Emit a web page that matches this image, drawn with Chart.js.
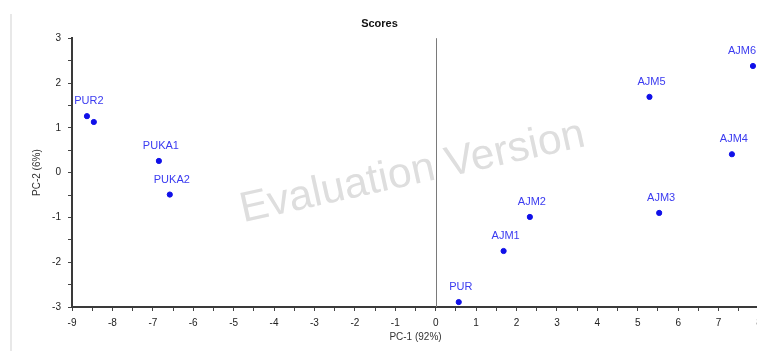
<!DOCTYPE html>
<html>
<head>
<meta charset="utf-8">
<script src="https://cdn.jsdelivr.net/npm/chart.js@4/dist/chart.umd.min.js"></script>
<style>
  html, body { margin: 0; padding: 0; background: #fff; overflow: hidden; }
  #wrap { position: relative; width: 770px; height: 351px; }
</style>
</head>
<body>
<div id="wrap"><canvas id="c"></canvas></div>
<script>
// PCA score plot: sample names with their PC-1 / PC-2 scores
const sampleNames = ['PUR2', '', 'PUKA1', 'PUKA2', 'PUR', 'AJM1', 'AJM2', 'AJM3', 'AJM5', 'AJM4', 'AJM6'];
const pc1Scores   = [-8.63, -8.46, -6.85, -6.58, 0.57, 1.68, 2.33, 5.53, 5.29, 7.33, 7.85];
const pc2Scores   = [1.26, 1.13, 0.26, -0.49, -2.89, -1.75, -0.99, -0.90, 1.69, 0.41, 2.38];

const xRange = [-9, 8];
const yRange = [-3, 3];

const chartTitle = 'Scores';
const xTitle = 'PC-1 (92%)';
const yTitle = 'PC-2 (6%)';
const watermark = 'Evaluation Version';

const points = pc1Scores.map((x, i) => ({ x: x, y: pc2Scores[i] }));

const FONT = "'Liberation Sans', Arial, sans-serif";
const VISIBLE_WIDTH = 757;

// light frame edge, watermark and the vertical zero line
const backdrop = {
  id: 'backdrop',
  beforeDatasetsDraw(chart) {
    const { ctx, chartArea: a, scales: { x } } = chart;
    ctx.save();
    ctx.strokeStyle = '#e8e8e8';
    ctx.lineWidth = 2;
    ctx.beginPath();
    ctx.moveTo(11, 14);
    ctx.lineTo(11, chart.height);
    ctx.stroke();

    // watermark text
    ctx.translate((a.left + a.right) / 2 - 3, (a.top + a.bottom) / 2 + 0);
    ctx.rotate(-12.5 * Math.PI / 180);
    ctx.font = '100px ' + FONT;
    const w = ctx.measureText(watermark).width;
    const size = 100 * 352 / w;
    ctx.font = size + 'px ' + FONT;
    ctx.fillStyle = '#dedede';
    ctx.textAlign = 'center';
    ctx.textBaseline = 'middle';
    ctx.fillText(watermark, 0, 0);
    ctx.restore();

    // zero line of PC-1
    const x0 = Math.round(x.getPixelForValue(0)) + 0.5;
    ctx.save();
    ctx.strokeStyle = '#7a7a7a';
    ctx.lineWidth = 1;
    ctx.beginPath();
    ctx.moveTo(x0, a.top);
    ctx.lineTo(x0, a.bottom);
    ctx.stroke();
    ctx.restore();
  }
};

// sample names above their points, kept inside the visible area
const pointNames = {
  id: 'pointNames',
  afterDatasetsDraw(chart) {
    const { ctx } = chart;
    const meta = chart.getDatasetMeta(0);
    ctx.save();
    ctx.font = '11px ' + FONT;
    ctx.fillStyle = '#3b3bf0';
    ctx.textAlign = 'center';
    ctx.textBaseline = 'middle';
    meta.data.forEach((el, i) => {
      const name = sampleNames[i];
      if (!name) return;
      const half = ctx.measureText(name).width / 2;
      const cx = Math.min(el.x + 2, VISIBLE_WIDTH - 1 - half);
      ctx.fillText(name, cx, el.y - 15);
    });
    ctx.restore();
  }
};

new Chart(document.getElementById('c'), {
  type: 'scatter',
  data: {
    datasets: [{
      data: points,
      backgroundColor: '#1010e8',
      borderColor: '#1010e8',
      pointRadius: 2.6,
      pointHoverRadius: 2.6
    }]
  },
  options: {
    responsive: true,
    maintainAspectRatio: false,
    animation: false,
    events: [],
    layout: { padding: { left: 0, right: 11, top: 0, bottom: 0 } },
    plugins: {
      legend: { display: false },
      tooltip: { enabled: false },
      title: {
        display: true,
        text: chartTitle,
        color: '#111',
        font: { family: FONT, size: 11, weight: 'bold' },
        padding: { top: 17, bottom: 8 }
      }
    },
    scales: {
      x: {
        type: 'linear',
        min: xRange[0],
        max: xRange[1],
        ticks: {
          stepSize: 0.5,
          autoSkip: false,
          maxRotation: 0,
          padding: 6,
          color: '#222',
          font: { family: FONT, size: 10 },
          callback: v => Number.isInteger(v) ? String(v) : ''
        },
        grid: { drawOnChartArea: false, drawTicks: true, tickLength: 4, color: '#444', tickWidth: 1 },
        border: { display: true, color: '#3a3a3a', width: 2 },
        title: {
          display: true,
          text: xTitle,
          color: '#333',
          font: { family: FONT, size: 10 },
          padding: { top: 0, bottom: 8 }
        },
        afterFit(scale) { scale.height = 44; }
      },
      y: {
        type: 'linear',
        min: yRange[0],
        max: yRange[1],
        ticks: {
          stepSize: 0.5,
          autoSkip: false,
          padding: 7,
          color: '#222',
          font: { family: FONT, size: 10 },
          callback: v => Number.isInteger(v) ? String(v) : ''
        },
        grid: { drawOnChartArea: false, drawTicks: true, tickLength: 4, color: '#444', tickWidth: 1 },
        border: { display: true, color: '#3a3a3a', width: 2 },
        title: {
          display: true,
          text: yTitle,
          color: '#333',
          font: { family: FONT, size: 10 },
          padding: { top: 31, bottom: 0 }
        },
        afterFit(scale) { scale.width = 72; }
      }
    }
  },
  plugins: [backdrop, pointNames]
});
</script>
</body>
</html>
